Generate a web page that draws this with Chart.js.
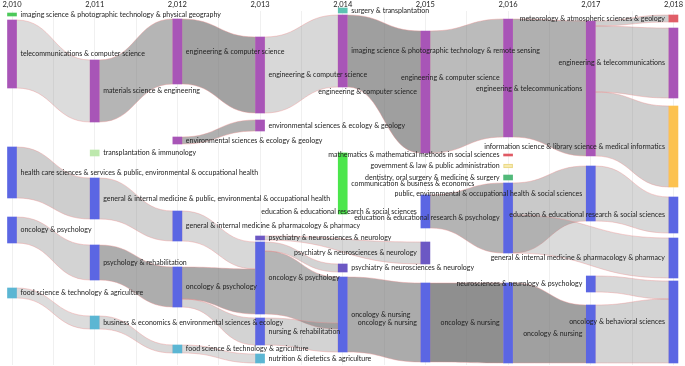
<!DOCTYPE html>
<html><head><meta charset="utf-8">
<script src="https://cdn.jsdelivr.net/npm/chart.js@4"></script>
<style>html,body{margin:0;padding:0;background:#fff;}#c{display:block;}</style>
</head><body>
<canvas id="c" width="685" height="366"></canvas>
<script>
// ---------- data ----------
const years = [2010, 2011, 2012, 2013, 2014, 2015, 2016, 2017, 2018];

const nodeLabels = [
  "imaging science & photographic technology & physical geography",
  "telecommunications & computer science",
  "health care sciences & services & public, environmental & occupational health",
  "oncology & psychology",
  "food science & technology & agriculture",
  "materials science & engineering",
  "transplantation & immunology",
  "general & internal medicine & public, environmental & occupational health",
  "psychology & rehabilitation",
  "business & economics & environmental sciences & ecology",
  "engineering & computer science",
  "environmental sciences & ecology & geology",
  "general & internal medicine & pharmacology & pharmacy",
  "oncology & psychology",
  "food science & technology & agriculture",
  "engineering & computer science",
  "environmental sciences & ecology & geology",
  "psychiatry & neurosciences & neurology",
  "oncology & psychology",
  "nursing & rehabilitation",
  "nutrition & dietetics & agriculture",
  "surgery & transplantation",
  "imaging science & photographic technology & remote sensing",
  "communication & business & economics",
  "psychiatry & neurosciences & neurology",
  "oncology & nursing",
  "engineering & computer science",
  "education & educational research & social sciences",
  "psychiatry & neurosciences & neurology",
  "oncology & nursing",
  "engineering & computer science",
  "mathematics & mathematical methods in social sciences",
  "government & law & public administration",
  "dentistry, oral surgery & medicine & surgery",
  "education & educational research & psychology",
  "oncology & nursing",
  "engineering & telecommunications",
  "public, environmental & occupational health & social sciences",
  "neurosciences & neurology & psychology",
  "oncology & nursing",
  "meteorology & atmospheric sciences & geology",
  "engineering & telecommunications",
  "information science & library science & medical informatics",
  "education & educational research & social sciences",
  "general & internal medicine & pharmacology & pharmacy",
  "oncology & behavioral sciences"
];
const nodeYears = [
  2010,2010,2010,2010,2010,
  2011,2011,2011,2011,2011,
  2012,2012,2012,2012,2012,
  2013,2013,2013,2013,2013,2013,
  2014,2014,2014,2014,2014,
  2015,2015,2015,2015,
  2016,2016,2016,2016,2016,2016,
  2017,2017,2017,2017,
  2018,2018,2018,2018,2018,2018
];
// cumulative position of each cluster on the vertical axis (start, end)
const nodeStart = [
  0.67, 3, 45.33, 68.67, 92.33,
  16.33, 46.33, 55.67, 78, 101.67,
  2.67, 42, 66.67, 85.33, 111.33,
  8.67, 36.33, 75, 77, 102.33, 114.33,
  -1, 1.33, 47.33, 84.33, 88.67,
  6.67, 61.33, 77, 90.67,
  2.67, 47.67, 51, 54.67, 57.33, 90.67,
  3.33, 51.67, 88.33, 98,
  1.33, 5.67, 31.67, 62, 75.67, 90
];
const nodeEnd = [
  1.67, 25.67, 62.33, 77.33, 95.67,
  37, 48.33, 69.33, 89.67, 106,
  24.33, 44.33, 76.67, 98.67, 114,
  34, 40, 76.33, 101, 111.33, 117.33,
  0.67, 25.33, 67.67, 87, 113.67,
  47.33, 72.33, 84.33, 117,
  42, 48.33, 52.33, 56.33, 80.67, 117.33,
  48.33, 70, 93.67, 117.33,
  3.67, 29, 58.67, 74, 89, 117.33
];
const nodeGroup = [
  "imaging","tech","med","med","agri",
  "tech","transplant","med","med","agri",
  "tech","tech","med","med","agri",
  "tech","tech","neuro","med","med","agri",
  "surgery","tech","social","neuro","med",
  "tech","med","neuro","med",
  "tech","math","law","dent","med","med",
  "tech","med","med","med",
  "meteo","tech","info","med","med","med"
];

// links: source node, target node, span at source, span at target, strength
const linkFrom = [1,2,3,4, 5,7,8,9, 10,11,12,13,13,14, 15,18,17,18,19, 22,25, 26,27,29, 30,34,34,35, 36,36,36,37,38,39];
const linkTo   = [5,7,8,9, 10,12,13,14, 15,16,18,18,19,20, 22,24,28,25,25, 26,29, 30,34,35, 36,37,44,39, 40,41,42,43,45,45];
const linkSrcSpan = [
  [3,25.67],[45.33,62.33],[68.67,77.33],[92.33,95.67],
  [16.33,37],[55.67,69.33],[78,89.67],[101.67,106],
  [2.67,24.33],[42,44.33],[66.67,76.67],[85.33,96],[96,98.67],[111.33,114],
  [8.67,34],[77,80],[75,76.33],[80,101],[102.33,111.33],
  [1.33,25.33],[88.67,113.67],
  [6.67,47.33],[61.33,72.33],[90.67,117],
  [2.67,42],[57.33,80.67],[68,80.67],[90.67,117.33],
  [3.33,5],[5,27],[27,48.33],[51.67,70],[88.33,93.67],[98,117.33]
];
const linkTgtSpan = [
  [16.33,37],[55.67,69.33],[78,89.67],[101.67,106],
  [2.67,24.33],[66.67,76.67],[85.33,98.67],[111.33,114],
  [8.67,34],[36.33,40],[77,86],[86,101],[102.33,111.33],[114.33,117.33],
  [1.33,25.33],[84.33,87],[77,84.33],[88.67,106],[104,113.67],
  [6.67,47.33],[90.67,117],
  [2.67,42],[57.33,80.67],[90.67,117.33],
  [3.33,48.33],[51.67,70],[75.67,89],[98,117.33],
  [1.33,3.67],[5.67,29],[31.67,58.67],[62,74],[90,96],[96,117.33]
];
const linkStrength = [
  2.3,3.3,2.9,2.3, 4.9,3,5.5,2.6, 6.2,5.3,2.6,5.8,2.9,2.4,
  2.6,2.9,2.6,4.9,2.9, 6.4,5.6, 4.5,5,7.5, 5.3,3.6,2.4,6.3,
  3.2,3.2,3.2,2.6,2.6,2.9
];

// ---------- styles ----------
const groupColor = {
  tech:"#a855b7", med:"#5b66e3", agri:"#5bb6d3", imaging:"#4cc95a",
  transplant:"#bde8ad", neuro:"#6c58c4", surgery:"#5cc3b3", social:"#4ce64c",
  math:"#e05a64", law:"#f6eab0", dent:"#52b97a", meteo:"#e05e68", info:"#fcc250"
};
const BAR = 9;
const FONT = "Lato, 'Open Sans', sans-serif";

const flowPlugin = {
  id: "flows",
  beforeDatasetsDraw(chart) {
    const ctx = chart.ctx, xs = chart.scales.x, ys = chart.scales.y;
    ctx.save();
    linkFrom.forEach((s, i) => {
      const t = linkTo[i];
      const x0 = xs.getPixelForValue(nodeYears[s]) + BAR / 2;
      const x1 = xs.getPixelForValue(nodeYears[t]) - BAR / 2;
      const a0 = ys.getPixelForValue(linkSrcSpan[i][0]);
      const a1 = ys.getPixelForValue(linkSrcSpan[i][1]);
      const b0 = ys.getPixelForValue(linkTgtSpan[i][0]);
      const b1 = ys.getPixelForValue(linkTgtSpan[i][1]);
      const xm = (x0 + x1) / 2;
      ctx.beginPath();
      ctx.moveTo(x0, a0);
      ctx.bezierCurveTo(xm, a0, xm, b0, x1, b0);
      ctx.lineTo(x1, b1);
      ctx.bezierCurveTo(xm, b1, xm, a1, x0, a1);
      ctx.closePath();
      ctx.fillStyle = "rgba(105,105,105," + (linkStrength[i] / 10).toFixed(3) + ")";
      ctx.fill();
      ctx.lineWidth = 0.7;
      ctx.strokeStyle = "rgba(236,140,140,0.55)";
      ctx.stroke();
    });
    ctx.restore();
  }
};

const labelPlugin = {
  id: "nodeLabels",
  afterDatasetsDraw(chart) {
    const ctx = chart.ctx, xs = chart.scales.x, ys = chart.scales.y;
    ctx.save();
    ctx.font = "7px " + FONT;
    ctx.fillStyle = "#222";
    ctx.textBaseline = "middle";
    nodeLabels.forEach((lab, i) => {
      const xc = xs.getPixelForValue(nodeYears[i]);
      const yc = ys.getPixelForValue((nodeStart[i] + nodeEnd[i]) / 2);
      if (nodeYears[i] <= 2014) {
        ctx.textAlign = "left";
        ctx.fillText(lab, xc + BAR / 2 + 4, yc);
      } else {
        ctx.textAlign = "right";
        ctx.fillText(lab, xc - BAR / 2 - 4, yc);
      }
    });
    ctx.restore();
  }
};

new Chart(document.getElementById("c"), {
  type: "bar",
  data: {
    datasets: [{
      data: nodeLabels.map((l, i) => ({ x: nodeYears[i], y: [nodeStart[i], nodeEnd[i]] })),
      backgroundColor: nodeGroup.map(g => groupColor[g]),
      borderColor: nodeGroup.map(g => g === "law" ? "#e8d47c" : "rgba(0,0,0,0)"),
      borderWidth: nodeGroup.map(g => g === "law" ? 1 : 0),
      borderSkipped: false,
      barThickness: BAR,
      clip: false
    }]
  },
  options: {
    responsive: false,
    animation: false,
    events: [],
    layout: { padding: { left: 12, right: 7, top: 0, bottom: 1 } },
    plugins: { legend: { display: false }, tooltip: { enabled: false } },
    scales: {
      x: {
        type: "linear", position: "top", offset: false,
        min: years[0], max: years[years.length - 1],
        ticks: {
          stepSize: 0.5, padding: 2, maxRotation: 0, autoSkip: false,
          color: "#222", font: { size: 7.5, family: FONT },
          callback: v => Number.isInteger(v) ? v.toLocaleString("en-US") : ""
        },
        grid: { color: "rgba(0,0,0,0.06)", drawTicks: false, offset: false },
        border: { display: false },
        afterFit: s => { s.height = 11; }
      },
      y: { type: "linear", min: 0, max: 118, reverse: true, display: false }
    }
  },
  plugins: [flowPlugin, labelPlugin]
});
</script>
</body></html>
